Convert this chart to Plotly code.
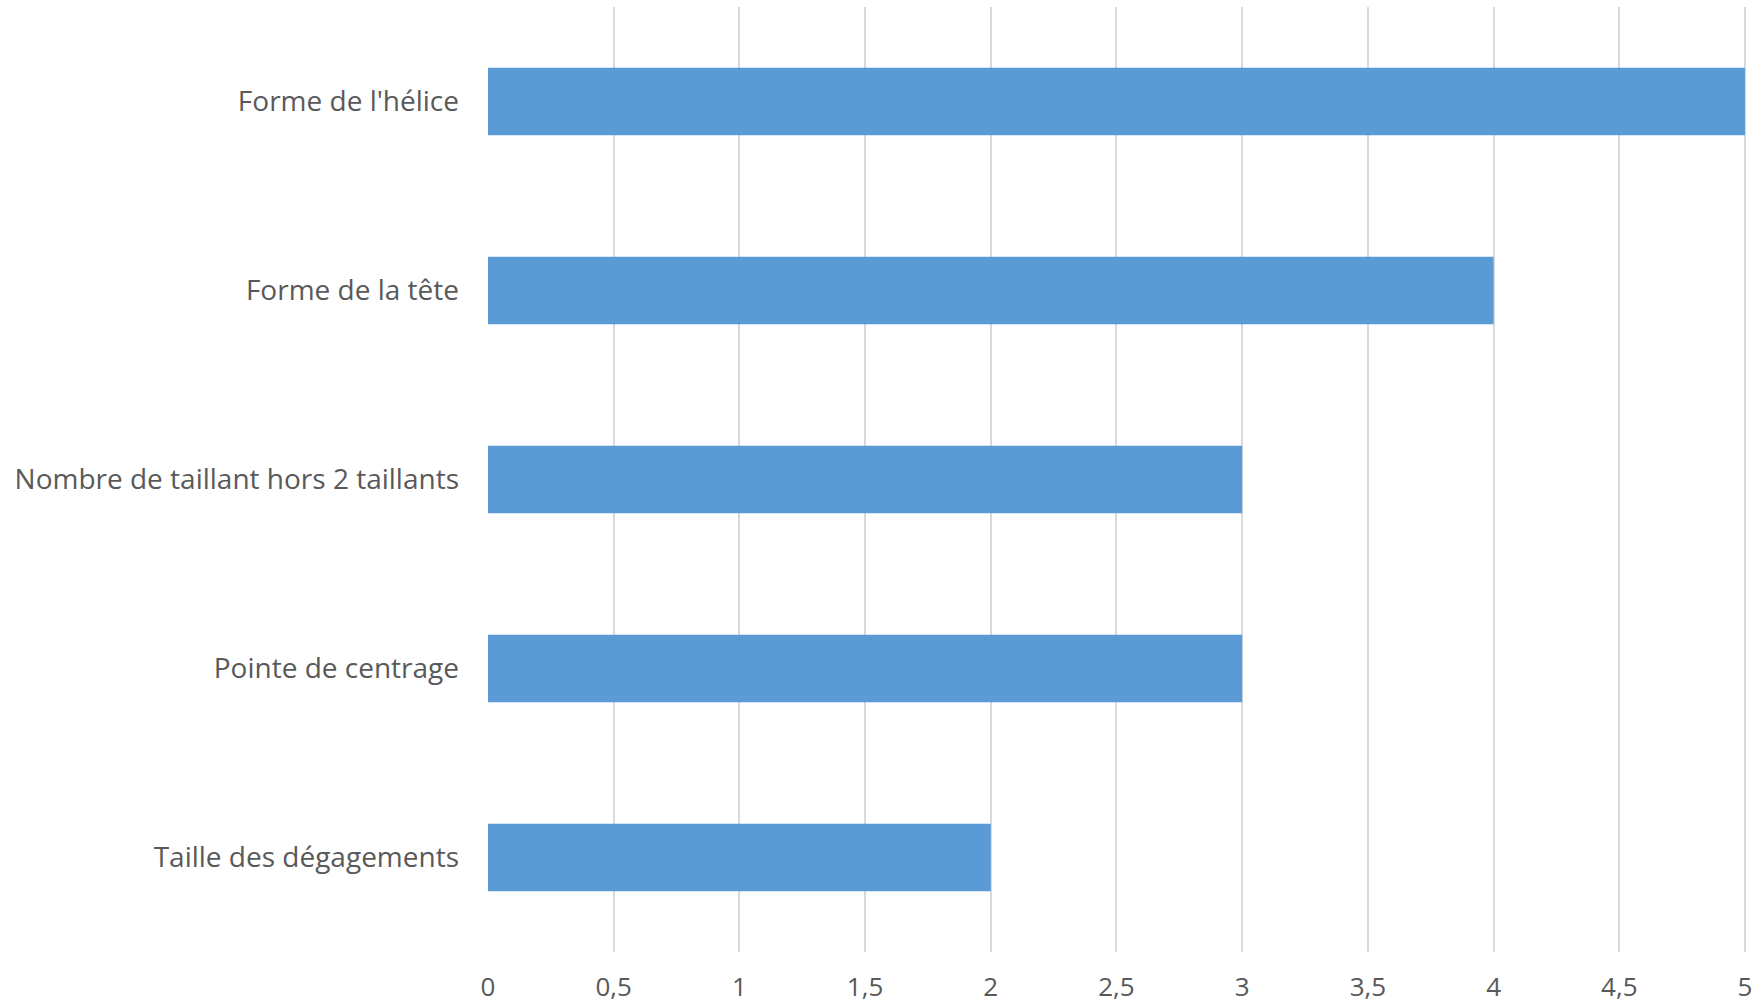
import plotly.graph_objects as go

categories = ["Forme de l'hélice", "Forme de la tête", "Nombre de taillant hors 2 taillants",
              "Pointe de centrage", "Taille des dégagements"]
values = [5, 4, 3, 3, 2]
x_ticks = [0, 0.5, 1, 1.5, 2, 2.5, 3, 3.5, 4, 4.5, 5]
x_tick_labels = ["0", "0,5", "1", "1,5", "2", "2,5", "3", "3,5", "4", "4,5", "5"]

fig = go.Figure(go.Bar(
    x=values, y=categories, orientation="h",
    marker=dict(color="#5B9BD5", line=dict(width=0)),
))

fig.update_layout(
    width=1752, height=1001,
    margin=dict(l=488, r=2, t=7, b=49),
    paper_bgcolor="white", plot_bgcolor="white",
    bargap=0.644,
    showlegend=False,
    font=dict(family="Open Sans, Noto Sans, sans-serif", color="#595959"),
)
fig.update_xaxes(
    range=[0, 5.02], tickvals=x_ticks, ticktext=x_tick_labels,
    showgrid=True, gridcolor="#D9D9D9", gridwidth=2,
    zeroline=False, showline=False, ticks="",
    tickfont=dict(size=26, color="#595959"),
    ticklabelstandoff=17, automargin=False, ticklabeloverflow="allow",
)
fig.update_yaxes(
    categoryorder="array", categoryarray=categories, autorange="reversed",
    showgrid=False, zeroline=False, showline=False, ticks="",
    tickfont=dict(size=28, color="#595959"),
    ticklabelstandoff=28, automargin=False,
)

# remove the page's default body margin so the figure fills the window exactly
fig.write_html("out.html",
               config={"displayModeBar": False},
               post_script="document.body.style.margin='0';document.body.style.overflow='hidden';")
